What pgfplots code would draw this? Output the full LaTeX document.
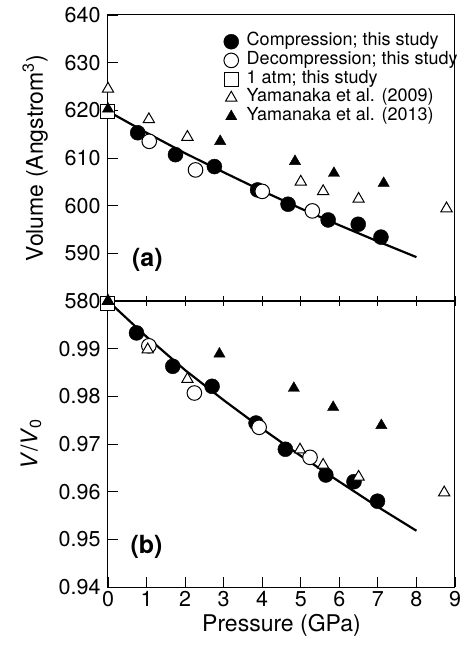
\documentclass[border=0pt]{standalone}
\usepackage{fontspec}
\setmainfont{TeX Gyre Heros}
\usepackage{pgfplots}
\pgfplotsset{compat=1.18}
\begin{document}
\begin{tikzpicture}
\pgfplotsset{
  common/.style={
    width=347pt, height=286pt, scale only axis,
    xmin=0, xmax=9, xtick={0,1,...,9},
    axis line style={line width=1pt},
    every tick/.style={black, line width=0.9pt},
    major tick length=10pt,
    ytick pos=left, ytick align=inside,
    clip mode=individual,
    /pgf/number format/assume math mode=true,
    tick label style={font=\fontsize{21.5}{24}\selectfont},
    yticklabel style={xshift=-4pt},
    xticklabel style={yshift=-1pt},
    label style={font=\fontsize{23}{26}\selectfont},
  },
  comp/.style={only marks, mark=*, mark size=7.5pt, draw=black, fill=black},
  decomp/.style={only marks, mark=*, mark size=7.3pt, draw=black, fill=white, line width=1pt},
  atm/.style={only marks, mark=square*, mark size=7pt, draw=black, fill=white, line width=1pt},
  yopen/.style={only marks, mark=triangle*, mark size=6.5pt, draw=black, fill=white, line width=1pt},
  yfill/.style={only marks, mark=triangle*, mark size=6.5pt, draw=black, fill=black},
  fit/.style={black, line width=2.2pt, no marks, forget plot},
}
% ---------- top panel ----------
\begin{axis}[common,
  at={(0pt,286pt)}, anchor=south west,
  ymin=580, ymax=640, ytick={580,590,...,640},
  xticklabels={}, xtick pos=bottom, xtick align=center,
  ylabel={Volume (Angstrom\textsuperscript{3})},
  ylabel style={at={(axis description cs:-0.21,0.5)}, anchor=center},
  legend cell align=left,
  legend style={at={(axis description cs:0.333,0.94)}, anchor=north west,
    draw=none, fill=none, inner sep=0pt,
    font=\fontsize{18}{20}\selectfont,
    nodes={font=\fontsize{18}{20}\selectfont, inner sep=1pt, text height=12.3pt, text depth=4.4pt},
    /tikz/every odd column/.append style={column sep=7pt}},
]
\addplot[fit] coordinates {(0,619.8)(1,615.3)(2,611.0)(3,607.0)(4,603.1)(5,599.4)(6,595.9)(7,592.5)(8,589.2)};
\addplot[comp] coordinates {(0.77,615.3)(1.75,610.7)(2.76,608.2)(3.88,603.3)(4.67,600.3)(5.71,597.0)(6.49,596.1)(7.08,593.4)};
\addlegendentry{Compression; this study}
\addplot[decomp] coordinates {(1.07,613.5)(2.27,607.5)(4.0,603.0)(5.30,598.9)};
\addlegendentry{Decompression; this study}
\addplot[atm] coordinates {(0,619.8)};
\addlegendentry{1 atm; this study}
\addplot[yopen] coordinates {(0,624.5)(1.06,618.1)(2.06,614.4)(5.0,605.0)(5.58,603.0)(6.5,601.4)(8.78,599.4)};
\addlegendentry{Yamanaka et al. (2009)}
\addplot[yfill] coordinates {(0,620.3)(2.91,613.5)(4.85,609.3)(5.86,606.8)(7.15,604.7)};
\addlegendentry{Yamanaka et al. (2013)}
\node[font=\fontsize{25}{27}\selectfont\bfseries] at (axis cs:1.02,588.7) {(a)};
\end{axis}
% ---------- bottom panel ----------
\begin{axis}[common,
  at={(0pt,0pt)}, anchor=south west,
  ymin=0.94, ymax=1.0, ytick={0.94,0.95,0.96,0.97,0.98,0.99},
  yticklabel style={/pgf/number format/.cd, fixed, fixed zerofill, precision=2},
  xtick pos=bottom, xtick align=inside,
  xlabel={Pressure (GPa)},
  ylabel={\textit{V}/\textit{V}\textsubscript{0}},
  ylabel style={at={(axis description cs:-0.222,0.5)}, anchor=center},
]
\addplot[fit] coordinates {(0,1.0)(1,0.9925)(2,0.9855)(3,0.9792)(4,0.9732)(5,0.9675)(6,0.9621)(7,0.9568)(8,0.9518)};
\addplot[comp] coordinates {(0.74,0.9933)(1.68,0.9863)(2.70,0.9821)(3.84,0.9744)(4.60,0.9689)(5.65,0.9635)(6.38,0.9621)(6.99,0.9580)};
\addplot[decomp] coordinates {(1.06,0.9906)(2.24,0.9807)(3.92,0.9735)(5.24,0.9672)};
\addplot[atm] coordinates {(0,0.9995)};
\addplot[yopen] coordinates {(0,1.0)(1.03,0.9898)(2.06,0.9836)(4.98,0.9688)(5.58,0.9656)(6.5,0.9631)(8.72,0.9598)};
\addplot[yfill] coordinates {(0,1.0)(2.89,0.9889)(4.82,0.9817)(5.84,0.9777)(7.09,0.9739)};
\node[font=\fontsize{25}{27}\selectfont\bfseries] at (axis cs:1.0,0.9485) {(b)};
\end{axis}
\pgfresetboundingbox
\path (-108pt,-68pt) rectangle (354pt,587pt);
\end{tikzpicture}
\end{document}
